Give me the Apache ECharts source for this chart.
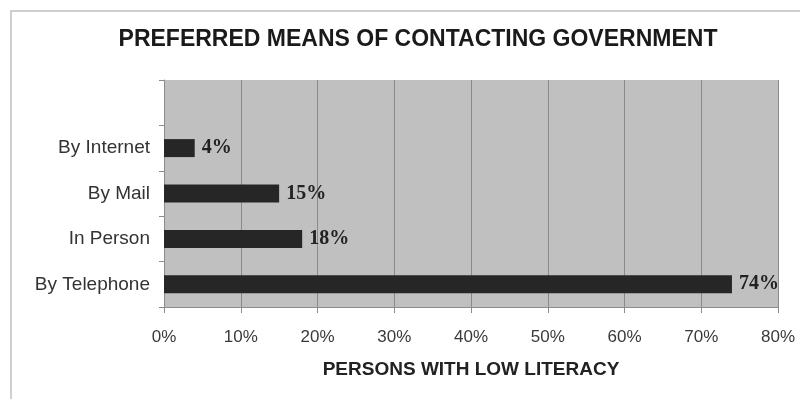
<!DOCTYPE html>
<html><head><meta charset="utf-8">
<script src="https://cdn.jsdelivr.net/npm/echarts@6/dist/echarts.min.js"></script>
<style>html,body{margin:0;padding:0;background:#fff;}#c{width:800px;height:399px;}</style>
</head><body><div id="c"></div>
<script>
const categories = ['By Telephone', 'In Person', 'By Mail', 'By Internet', ''];
const values = [74, 18, 15, 4, null];
const xTicks = [0, 10, 20, 30, 40, 50, 60, 70, 80];
const titleText = 'PREFERRED MEANS OF CONTACTING GOVERNMENT';
const xAxisTitle = 'PERSONS WITH LOW LITERACY';

const chart = echarts.init(document.getElementById('c'), null, {renderer: 'canvas'});
chart.setOption({
  animation: false,
  backgroundColor: '#fff',
  graphic: [{
    type: 'polyline',
    shape: {points: [[11, 420], [11, 11], [820, 11]]},
    style: {stroke: '#cfcfcf', lineWidth: 2, fill: null},
    silent: true
  }],
  title: {
    text: titleText,
    left: 413, top: 23, textAlign: 'center',
    textStyle: {fontFamily: 'Liberation Sans, Arial', fontWeight: 'bold', fontSize: 23, color: '#1a1a1a'}
  },
  grid: {left: 164, right: 22, top: 80, bottom: 92, containLabel: false, show: true, backgroundColor: '#c0c0c0', borderWidth: 0},
  xAxis: {
    type: 'value', min: xTicks[0], max: xTicks[xTicks.length - 1], interval: 10,
    name: xAxisTitle, nameLocation: 'middle', nameGap: 53,
    nameTextStyle: {fontFamily: 'Liberation Sans, Arial', fontWeight: 'bold', fontSize: 19, color: '#222'},
    axisLine: {show: true, lineStyle: {color: '#8c8c8c', width: 1}},
    axisTick: {show: true, length: 6, lineStyle: {color: '#8c8c8c'}},
    axisLabel: {formatter: v => v + '%', margin: 22, fontFamily: 'Liberation Sans, Arial', fontSize: 17, color: '#3a3a3a'},
    splitLine: {show: true, lineStyle: {color: '#8a8a8a', width: 1}}
  },
  yAxis: {
    type: 'category', data: categories,
    axisLine: {show: true, lineStyle: {color: '#8c8c8c', width: 1}},
    axisTick: {show: true, length: 5, lineStyle: {color: '#8c8c8c'}},
    axisLabel: {margin: 14, fontFamily: 'Liberation Sans, Arial', fontSize: 19, color: '#333'},
    splitLine: {show: false}
  },
  series: [{
    type: 'bar', data: values, barWidth: 18,
    itemStyle: {color: '#262626'},
    label: {show: true, position: 'right', distance: 7, formatter: p => p.value + '%',
      fontFamily: 'Liberation Serif, Times New Roman', fontWeight: 'bold', fontSize: 20, color: '#222'}
  }]
});
</script></body></html>
